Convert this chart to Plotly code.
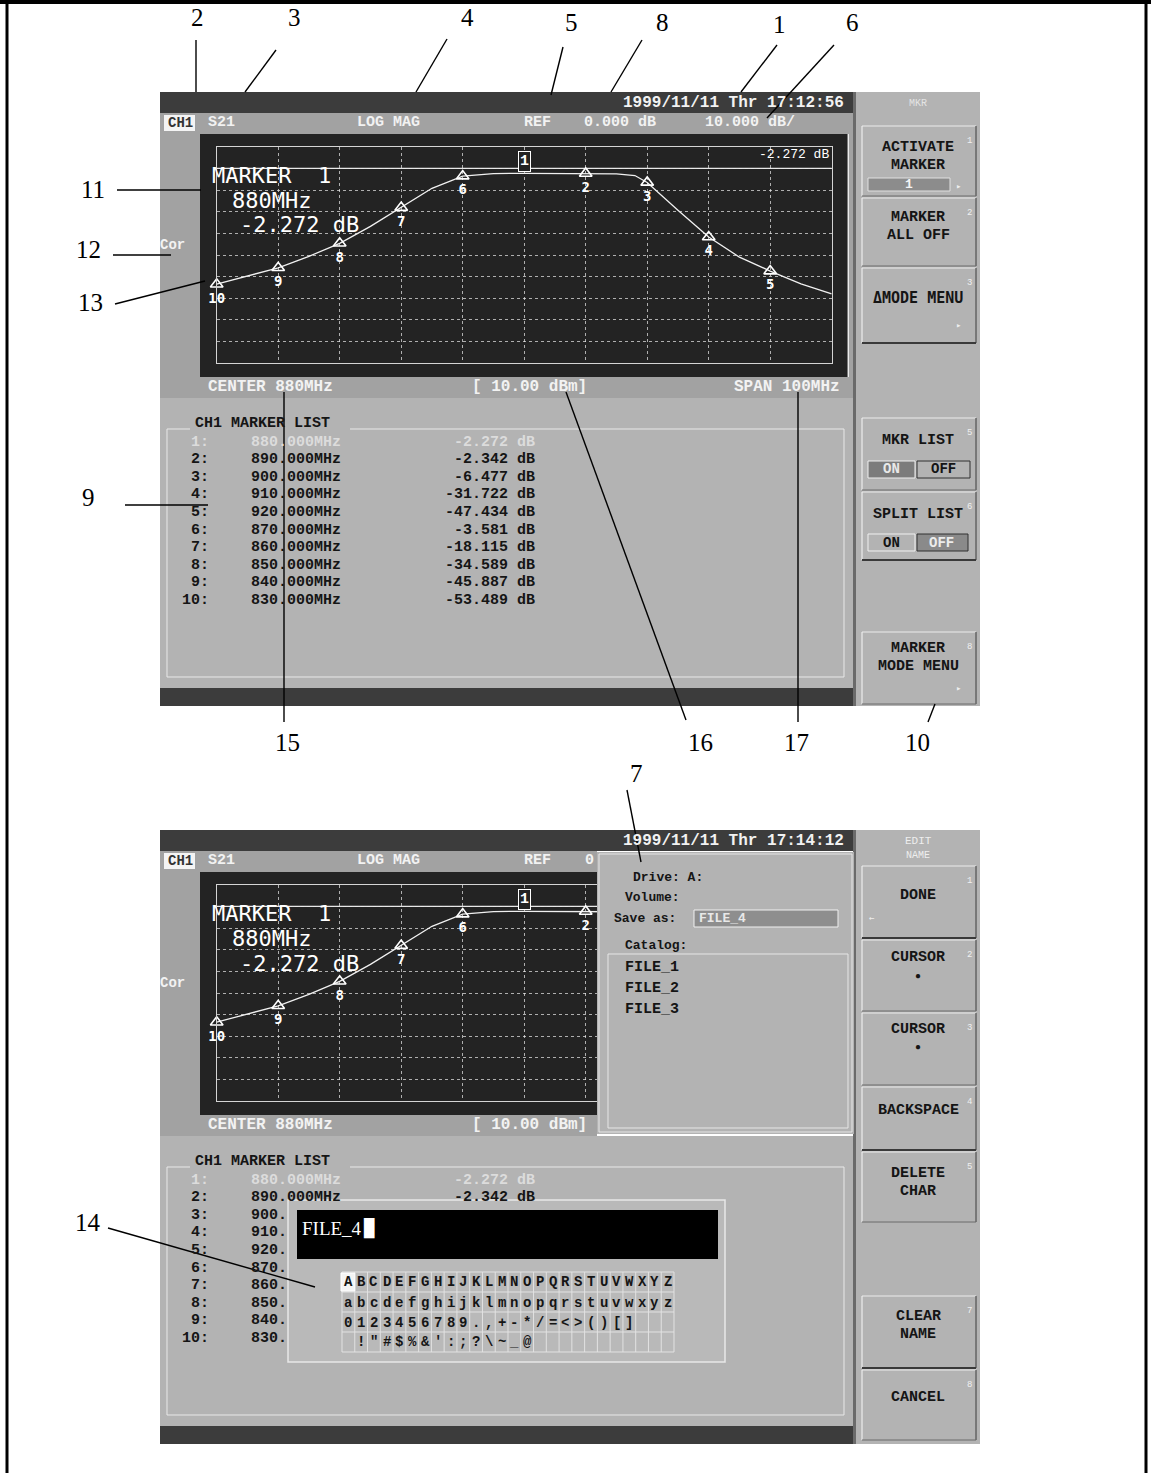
import plotly.graph_objects as go

W, H = 1151, 1473
DY = 738  # vertical offset of the lower screen

# ---------------- data ----------------
trace_freq = [830, 835, 840, 845, 850, 855, 860, 865, 870, 875, 880, 885, 890, 895, 898, 900, 905, 910, 915, 920, 925, 930]
trace_db = [-53.5, -49.6, -45.9, -40.6, -34.6, -26.8, -18.1, -9.2, -3.6, -2.4, -2.27, -2.3, -2.34, -2.5, -3.3,
            -6.5, -19.3, -31.7, -41.0, -47.4, -53.3, -58.0]
marker_id = [1, 2, 3, 4, 5, 6, 7, 8, 9, 10]
marker_freq = [880, 890, 900, 910, 920, 870, 860, 850, 840, 830]
marker_db = [-2.272, -2.342, -6.477, -31.722, -47.434, -3.581, -18.115, -34.589, -45.887, -53.489]
x_range = [830, 930]   # CENTER 880 MHz, SPAN 100 MHz
y_range = [-90, 10]    # REF 0 dB, 10 dB/div
palette_rows = ["ABCDEFGHIJKLMNOPQRSTUVWXYZ", "abcdefghijklmnopqrstuvwxyz",
                "0123456789.,+-*/=<>()[]", " !\"#$%&':;?\\~_@"]
catalog = ["FILE_1", "FILE_2", "FILE_3"]

MONO = "Liberation Mono"
SANSMONO = "DejaVu Sans Mono"
SERIF = "Liberation Serif"
PANEL = "#b3b3b3"
MID = "#a2a2a2"
DARK = "#3c3c3c"
GRAPH = "#232323"
LIGHT = "#f2f2f2"
INK = "#151515"

shapes, annots = [], []


def R(x0, y0, x1, y1, fill=None, line=None, lw=1, layer="below"):
    shapes.append(dict(type="rect", xref="paper", yref="paper", x0=x0 / W, x1=x1 / W,
                       y0=1 - y1 / H, y1=1 - y0 / H,
                       fillcolor=fill if fill else "rgba(0,0,0,0)",
                       line=dict(color=line if line else "rgba(0,0,0,0)", width=lw if line else 0),
                       layer=layer))


def L(x0, y0, x1, y1, color="black", w=1.4, layer="above"):
    shapes.append(dict(type="line", xref="paper", yref="paper", x0=x0 / W, y0=1 - y0 / H,
                       x1=x1 / W, y1=1 - y1 / H, line=dict(color=color, width=w), layer=layer))


def esc(s):
    return s.replace("&", "&amp;").replace("<", "&lt;").replace(">", "&gt;")


def T(x, y, s, size=14, color=INK, anchor="center", family=MONO, weight="bold"):
    annots.append(dict(xref="paper", yref="paper", x=x / W, y=1 - y / H, text=esc(s), showarrow=False,
                       xanchor=anchor, yanchor="middle", borderpad=0,
                       font=dict(family=family, size=size, color=color, weight=weight)))


def callout(label, lx, ly, x0, y0, x1, y1):
    annots.append(dict(xref="paper", yref="paper", x=lx / W, y=1 - ly / H, text=label, showarrow=False,
                       xanchor="center", yanchor="middle",
                       font=dict(family=SERIF, size=25, color="black")))
    if x0 is not None:
        L(x0, y0, x1, y1, "black", 1.4)


# --------------- outer frame ---------------
L(0, 2, W, 2, "black", 4)
L(7, 0, 7, H, "black", 3)
L(1146, 0, 1146, H, "black", 3)


def screen(dy, lower):
    # status bar
    R(160, 92 + dy, 853, 113 + dy, DARK)
    T(845, 103 + dy, "1999/11/11 Thr " + ("17:14:12" if lower else "17:12:56"), 16, LIGHT, "right")
    right = 597 if lower else 853
    # header row
    R(160, 113 + dy, right, 134 + dy, MID)
    R(164, 115 + dy, 195, 131 + dy, "#f4f4f4")
    T(180, 123 + dy, "CH1", 14, "#333333")
    T(207, 123 + dy, "S21", 15, LIGHT, "left")
    T(389, 123 + dy, "LOG MAG", 15, LIGHT)
    T(523, 123 + dy, "REF", 15, LIGHT, "left")
    if lower:
        T(584, 123 + dy, "0", 15, LIGHT, "left")
    else:
        T(583, 123 + dy, "0.000 dB", 15, LIGHT, "left")
        T(704, 123 + dy, "10.000 dB/", 15, LIGHT, "left")
    # left strip + graph area
    R(160, 134 + dy, 200, 377 + dy, MID)
    R(200, 134 + dy, right if lower else 848, 377 + dy, GRAPH)
    if not lower:
        L(848, 134, 848, 377, "#d8d8d8", 1, "below")
        R(849, 134, 853, 377, MID)
    T(172, 245 + dy, "Cor", 14, LIGHT)
    # big marker readout
    T(211, 175 + dy, "MARKER  1", 22, "white", "left", SANSMONO, "normal")
    T(231, 200 + dy, "880MHz", 22, "white", "left", SANSMONO, "normal")
    T(239, 225 + dy, "-2.272 dB", 22, "white", "left", SANSMONO, "normal")
    if not lower:
        T(830, 155, "-2.272 dB", 13, "white", "right", MONO, "normal")
    # bottom label row
    R(160, 377 + dy, right, 398 + dy, MID)
    T(207, 387 + dy, "CENTER 880MHz", 16, LIGHT, "left")
    T(471, 387 + dy, "[ 10.00 dBm]", 16, LIGHT, "left")
    if not lower:
        T(841, 387, "SPAN 100MHz", 16, LIGHT, "right")
    # marker list panel
    R(160, 398 + dy, 853, 688 + dy, PANEL)
    R(167, 429 + dy, 844, 677 + dy, None, "#e8e8e8", 1)
    R(190, 418 + dy, 350, 432 + dy, PANEL)
    T(194, 423 + dy, "CH1 MARKER LIST", 15, INK, "left")
    for i in range(len(marker_id)):
        y = 442 + dy + 17.6 * i
        col = "#dcdcdc" if i == 0 else INK
        T(210, y, f"{marker_id[i]}:", 15, col, "right")
        if lower and i >= 2:
            T(250, y, f"{marker_freq[i]:.0f}.", 15, col, "left")
        else:
            T(250, y, f"{marker_freq[i]:.3f}MHz", 15, col, "left")
            T(536, y, f"{marker_db[i]:.3f} dB", 15, col, "right")
    R(160, 688 + dy, 853, 706 + dy, DARK)
    # softkey panel
    R(855, 92 + dy, 980, 706 + dy, PANEL)
    R(853, 92 + dy, 856, 706 + dy, "#6a6a6a")


screen(0, False)
screen(DY, True)


# ---------- softkeys ----------
def key(y0, y1, idx, dark_bottom=False):
    L(862, y0, 976, y0, "#ececec", 1.2, "below")
    L(862, y0, 862, y1, "#ececec", 1.2, "below")
    L(976, y0, 976, y1, "#505050", 1.2, "below")
    L(862, y1, 976, y1, "#3a3a3a" if dark_bottom else "#6a6a6a", 2 if dark_bottom else 1, "below")
    if idx:
        T(969, y0 + 15, idx, 9, "#f0f0f0", "center", MONO, "normal")


T(918, 103, "MKR", 10, "#e4e4e4", "center", MONO, "normal")
key(126, 196, "1")
key(198, 266, "2")
key(268, 343, "3", True)
key(418, 490, "5")
key(492, 560, "6", True)
key(632, 704, "8")
T(918, 147, "ACTIVATE", 15)
T(918, 165, "MARKER", 15)
R(868, 178, 950, 191, "#8c8c8c", "#e0e0e0", 1)
T(909, 184, "1", 13, "#f4f4f4")
T(958, 186, "▸", 9, "#eeeeee", "center", SANSMONO, "normal")
T(918, 218, "MARKER", 15)
T(918, 236, "ALL OFF", 15)
T(918, 298, "ΔMODE MENU", 15, INK, "center", SANSMONO)
T(958, 325, "▸", 9, "#eeeeee", "center", SANSMONO, "normal")
T(918, 441, "MKR LIST", 15)
R(868, 461, 915, 478, "#7c7c7c", "#f0f0f0", 1)
T(891, 469, "ON", 14, "#e8e8e8")
R(917, 461, 970, 478, None, "#303030", 1)
T(943, 469, "OFF", 14)
T(918, 514, "SPLIT LIST", 15)
R(868, 534, 915, 551, None, "#f0f0f0", 1)
T(891, 543, "ON", 14)
R(917, 534, 968, 551, "#8a8a8a", "#303030", 1)
T(942, 543, "OFF", 14, "#ececec")
T(918, 648, "MARKER", 15)
T(918, 666, "MODE MENU", 15)
T(958, 688, "▸", 9, "#eeeeee", "center", SANSMONO, "normal")

T(918, 841, "EDIT", 11, "#eeeeee", "center", MONO, "normal")
T(918, 855, "NAME", 10, "#eeeeee", "center", MONO, "normal")
key(866, 938, "1", True)
key(940, 1011, "2")
key(1013, 1085, "3")
key(1087, 1150, "4", True)
key(1152, 1222, "5")
key(1296, 1368, "7", True)
key(1370, 1440, "8")
T(918, 895, "DONE", 15)
T(868, 918, "←", 9, "#eeeeee", "left", SANSMONO, "normal")
T(918, 957, "CURSOR", 15)
T(918, 976, "●", 10)
T(918, 1029, "CURSOR", 15)
T(918, 1047, "●", 10)
T(918, 1110, "BACKSPACE", 15)
T(918, 1173, "DELETE", 15)
T(918, 1191, "CHAR", 15)
T(918, 1316, "CLEAR", 15)
T(918, 1334, "NAME", 15)
T(918, 1397, "CANCEL", 15)

# ---------- file dialog on lower screen (covers the graph) ----------
R(597, 852, 854, 1134, PANEL, None, 1, "above")
R(599, 854, 852, 1132, None, "#e6e6e6", 1, "above")
R(608, 954, 848, 1128, None, "#e6e6e6", 1, "above")
R(694, 910, 838, 927, "#8e8e8e", "#f0f0f0", 1, "above")
T(632, 877, "Drive: A:", 13, INK, "left")
T(624, 898, "Volume:", 13, INK, "left")
T(613, 918, "Save as:", 13, INK, "left")
T(698, 918, "FILE_4", 13, "#e8e8e8", "left")
T(624, 945, "Catalog:", 13, INK, "left")
for i, name in enumerate(catalog):
    T(624, 967 + 21 * i, name, 15, INK, "left")

# ---------- character palette dialog ----------
R(288, 1200, 725, 1362, "#b9b9b9", "#e8e8e8", 1.5, "above")
R(297, 1210, 718, 1259, "black", None, 1, "above")
T(301, 1228, "FILE_4", 19, "white", "left", SERIF, "normal")
T(362, 1228, "█", 17, "white", "left", SANSMONO, "normal")
gx0, gx1 = 342, 674
cw = (gx1 - gx0) / 26
row_y = [1281.5, 1302.5, 1322.5, 1342]
for c in range(27):
    L(gx0 + c * cw, 1272, gx0 + c * cw, 1352, "#e2e2e2", 1, "above")
for r in range(5):
    yy = 1272 + r * 20
    L(gx0, yy, gx1, yy, "#e2e2e2", 1, "above")
R(gx0 - 1, 1273, gx0 + cw, 1291, "#f4f4f4", "#ffffff", 1, "above")
for r, row in enumerate(palette_rows):
    for c, ch in enumerate(row):
        if ch != " ":
            T(gx0 + (c + 0.5) * cw, row_y[r], ch, 14, INK)

# ---------- callouts ----------
callout("2", 197, 18, 196, 40, 196, 92)
callout("3", 294, 18, 276, 50, 245, 92)
callout("4", 467, 18, 447, 39, 416, 92)
callout("5", 571, 23, 563, 47, 551, 95)
callout("8", 662, 23, 642, 40, 611, 92)
callout("1", 779, 24, 777, 45, 741, 92)
callout("6", 852, 23, 834, 45, 767, 118)
callout("11", 93, 190, 117, 190, 201, 190)
callout("12", 88, 250, 113, 255, 171, 255)
callout("13", 90, 302, 115, 304, 205, 281)
callout("9", 88, 497, 125, 505, 208, 505)
callout("15", 287, 742, 284, 392, 284, 722)
callout("16", 700, 742, 566, 392, 686, 720)
callout("17", 796, 742, 798, 392, 798, 722)
callout("10", 917, 742, 935, 704, 928, 722)
callout("7", 636, 773, 627, 790, 641, 862)
callout("14", 88, 1222, 108, 1228, 315, 1287)

# ---------- traces ----------
fig = go.Figure()
for xa, ya in [("x", "y"), ("x2", "y2")]:
    fig.add_trace(go.Scatter(x=trace_freq, y=trace_db, mode="lines", xaxis=xa, yaxis=ya,
                             line=dict(color="#f0f0f0", width=1.3), hoverinfo="skip", showlegend=False))
    fig.add_trace(go.Scatter(x=marker_freq[1:], y=marker_db[1:], mode="markers+text", xaxis=xa, yaxis=ya,
                             text=[str(m) for m in marker_id[1:]], textposition="bottom center",
                             cliponaxis=False,
                             marker=dict(symbol="triangle-up-open", size=11, color="white",
                                         line=dict(color="white", width=1.6)),
                             textfont=dict(color="white", size=14, family=SANSMONO, weight="bold"),
                             hoverinfo="skip", showlegend=False))
    annots.append(dict(xref=xa, yref=ya, x=marker_freq[0], y=marker_db[0], text=str(marker_id[0]),
                       showarrow=False, yanchor="bottom", xanchor="center", yshift=1,
                       bordercolor="white", borderwidth=1, borderpad=1, bgcolor=GRAPH,
                       font=dict(color="white", size=15, family=MONO, weight="bold")))
    shapes.append(dict(type="line", xref=f"{xa} domain", yref=ya, x0=0, x1=1, y0=0, y1=0,
                       line=dict(color="#e6e6e6", width=1.3), layer="below"))

# the dialogs must sit above the lower graph
shapes_sorted = [s for s in shapes if s.get("layer") != "above"] + [s for s in shapes if s.get("layer") == "above"]

xd = [216.7 / W, 831.7 / W]
ax_common = dict(range=x_range, dtick=10, tick0=830, showgrid=True, gridcolor="rgba(235,235,235,0.7)",
                 griddash="dot", gridwidth=1, zeroline=False, showticklabels=False, ticks="",
                 showline=True, mirror=True, linecolor="#d4d4d4", linewidth=1, fixedrange=True)
ay_common = dict(range=y_range, dtick=10, tick0=-90, showgrid=True, gridcolor="rgba(235,235,235,0.7)",
                 griddash="dot", gridwidth=1, zeroline=False, showticklabels=False, ticks="",
                 showline=True, mirror=True, linecolor="#d4d4d4", linewidth=1, fixedrange=True)

fig.update_layout(
    width=W, height=H, margin=dict(l=0, r=0, t=0, b=0, pad=0),
    paper_bgcolor="white", plot_bgcolor="rgba(0,0,0,0)", showlegend=False,
    xaxis=dict(domain=xd, anchor="y", **ax_common),
    yaxis=dict(domain=[1 - 363.3 / H, 1 - 146.7 / H], anchor="x", **ay_common),
    xaxis2=dict(domain=xd, anchor="y2", **ax_common),
    yaxis2=dict(domain=[1 - (363.3 + DY) / H, 1 - (146.7 + DY) / H], anchor="x2", **ay_common),
    shapes=shapes_sorted, annotations=annots,
)

fig.write_html("out.html", config={"displayModeBar": False})

# remove the browser's default page margin so the figure sits at the window's origin
with open("out.html", "r", encoding="utf-8") as fh:
    page = fh.read()
page = page.replace("<head>", "<head><style>html,body{margin:0;padding:0;overflow:hidden;}</style>", 1)
with open("out.html", "w", encoding="utf-8") as fh:
    fh.write(page)
